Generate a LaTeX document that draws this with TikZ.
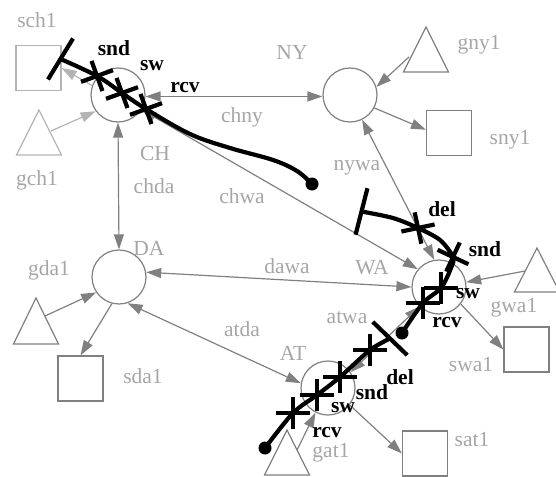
\documentclass[tikz,border=0pt]{standalone}
\usepackage{fontspec}
\setmainfont{Liberation Serif}
\usetikzlibrary{arrows.meta,calc}
\definecolor{edgegray}{HTML}{808080}
\definecolor{faintgray}{HTML}{B4B4B4}
\definecolor{labelgray}{HTML}{A6A6A6}
\tikzset{
  site/.style={circle, draw=edgegray, line width=1.2pt, minimum size=54pt, inner sep=0pt},
  hostbox/.style={rectangle, draw=edgegray, line width=1.2pt, minimum size=45pt, inner sep=0pt},
  hostline/.style={draw=edgegray, line width=1.2pt, line join=miter},
  faint/.style={draw=faintgray, color=faintgray},
  head/.tip={Triangle[length=15pt,width=10pt]},
  link/.style={draw=edgegray, color=edgegray, line width=1.2pt, -head},
  duplex/.style={link, head-head},
  lbl/.style={text=labelgray, font=\fontsize{21.5}{21.5}\selectfont, inner sep=0pt},
  oplbl/.style={text=black, font=\bfseries\fontsize{21.5}{21.5}\selectfont, inner sep=0pt},
  trace/.style={draw=black, line width=4.2pt},
  startdot/.style={circle, fill=black, minimum size=13pt, inner sep=0pt},
  opmark/.pic={\draw[trace] (-17pt,0pt) -- (17pt,0pt) (0pt,-16pt) -- (0pt,16pt);},
}
\begin{document}
\begin{tikzpicture}[x=1pt,y=-1pt]
\useasboundingbox (0,0) rectangle (556,476);

% sites
\node[site] (CH) at (118,95) {};
\node[site] (NY) at (350,95) {};
\node[site] (DA) at (119,277) {};
\node[site] (WA) at (439,287) {};
\node[site] (AT) at (328,388) {};

% sink boxes
\node[hostbox, faint] (sch1) at (38.5,68) {};
\node[hostbox] (sny1) at (449,133) {};
\node[hostbox] (sda1) at (80.5,378.5) {};
\node[hostbox] (swa1) at (526.5,349.5) {};
\node[hostbox] (sat1) at (425,453.5) {};

% generator triangles and their outlets
\draw[hostline, faint] (39,110) -- (61.5,155) -- (16.5,155) -- cycle;
\coordinate (gch1) at (51,131);
\draw[hostline] (426,27) -- (448.5,72) -- (403.5,72) -- cycle;
\coordinate (gny1) at (409,57);
\draw[hostline] (36,298) -- (58.5,344) -- (13.5,344) -- cycle;
\coordinate (gda1) at (45,316);
\draw[hostline] (537,248) -- (559.5,292) -- (514.5,292) -- cycle;
\coordinate (gwa1) at (525,271);
\draw[hostline] (287,430) -- (309.5,475) -- (264.5,475) -- cycle;
\coordinate (gat1) at (297,450);

% links between sites
\draw[duplex] (CH.-3) -- (NY.183);
\draw[duplex] (CH.-90) -- (DA.90);
\draw[duplex] (CH.-32) -- (WA.140);
\draw[duplex] (DA.10) -- (WA.180);
\draw[duplex] (DA.-72) -- (AT.170);
\draw[duplex] (NY.-64) -- (WA.100);
\draw[duplex] (AT.35) -- (WA.-135);

% host links
\draw[link, faint] (gch1) -- (CH.216);
\draw[link, faint] (CH.160) -- (sch1.east);
\draw[link] (gny1) -- (NY.17);
\draw[link] (NY.-28) -- (sny1.172);
\draw[link] (gda1) -- (DA.214);
\draw[link] (DA.255) -- (sda1.north);
\draw[link] (gwa1) -- (WA.10);
\draw[link] (WA.-38) -- (swa1.west);
\draw[link] (gat1) -- (AT.243);
\draw[link] (AT.-38) -- (sat1.west);

% labels
\node[lbl] (t-NY) at (292,52) {NY};
\node[lbl] (t-CH) at (155,153) {CH};
\node[lbl] (t-DA) at (149,248) {DA};
\node[lbl] (t-WA) at (372,268) {WA};
\node[lbl] (t-AT) at (293,353) {AT};
\node[lbl] (t-chny) at (242,117) {chny};
\node[lbl] (t-chda) at (154,186) {chda};
\node[lbl] (t-chwa) at (242,196) {chwa};
\node[lbl] (t-dawa) at (287,266) {dawa};
\node[lbl] (t-atda) at (242,329) {atda};
\node[lbl] (t-nywa) at (357,168) {nywa};
\node[lbl] (t-atwa) at (347,318) {atwa};
\node[lbl] (t-sch1) at (37,20) {sch1};
\node[lbl] (t-gch1) at (37,180) {gch1};
\node[lbl] (t-gny1) at (479,45) {gny1};
\node[lbl] (t-sny1) at (510,140) {sny1};
\node[lbl] (t-gda1) at (49,270) {gda1};
\node[lbl] (t-sda1) at (143,376) {sda1};
\node[lbl] (t-gwa1) at (514,308) {gwa1};
\node[lbl] (t-swa1) at (471,365) {swa1};
\node[lbl] (t-gat1) at (331,453) {gat1};
\node[lbl] (t-sat1) at (472,440) {sat1};

% trace through CH
\node[startdot] (s1) at (312,184) {};
\coordinate (c1r) at (146,109);
\coordinate (c1w) at (122,93);
\coordinate (c1s) at (97,76);
\coordinate (e1) at (60.5,59);
\draw[trace] plot[smooth, tension=0.6] coordinates
  {(s1.center) (297,171) (273,160) (230,148) (190,134) (c1r) (c1w) (c1s) (e1)};
\draw[trace] (e1) ++(58.6:24pt) -- ++(238.6:48pt);
\foreach \c in {c1r,c1w,c1s} \pic[rotate=20] at (\c) {opmark};

% trace through AT
\node[startdot] (s2) at (265,448) {};
\coordinate (c2r) at (293,413);
\coordinate (c2w) at (317,395);
\coordinate (c2s) at (340,377);
\coordinate (c2d) at (370,350);
\coordinate (e2) at (390,338.5);
\draw[trace] plot[smooth, tension=0.5] coordinates
  {(s2.center) (c2r) (c2w) (c2s) (c2d) (e2)};
\draw[trace] (e2) ++(-44:24pt) -- ++(136:48pt);
\foreach \c in {c2r,c2w,c2s,c2d} \pic at (\c) {opmark};

% trace through WA
\node[startdot] (s3) at (402,333) {};
\coordinate (c3r) at (423,303);
\coordinate (c3w) at (441,288);
\coordinate (c3s) at (453,257);
\coordinate (c3d) at (418,228);
\coordinate (e3) at (361.5,211.5);
\draw[trace] plot[smooth, tension=0.5] coordinates
  {(s3.center) (c3r) (c3w) (451,268) (c3s) (440,240) (c3d) (393,218) (e3)};
\draw[trace] (e3) ++(75.7:24pt) -- ++(255.7:48pt);
\pic at (c3r) {opmark};
\pic at (c3w) {opmark};
\pic[rotate=-25] at (c3s) {opmark};
\pic[rotate=12] at (c3d) {opmark};

% operation labels
\node[oplbl] (o1s) at (114,48) {snd};
\node[oplbl] (o1w) at (152,66) {sw};
\node[oplbl] (o1r) at (185,88) {rcv};
\node[oplbl] (o2r) at (327,433) {rcv};
\node[oplbl] (o2w) at (343,408) {sw};
\node[oplbl] (o2s) at (372,392) {snd};
\node[oplbl] (o2d) at (400,377) {del};
\node[oplbl] (o3d) at (442,209) {del};
\node[oplbl] (o3s) at (485,249) {snd};
\node[oplbl] (o3w) at (468,294) {sw};
\node[oplbl] (o3r) at (447,323) {rcv};
\end{tikzpicture}
\end{document}
